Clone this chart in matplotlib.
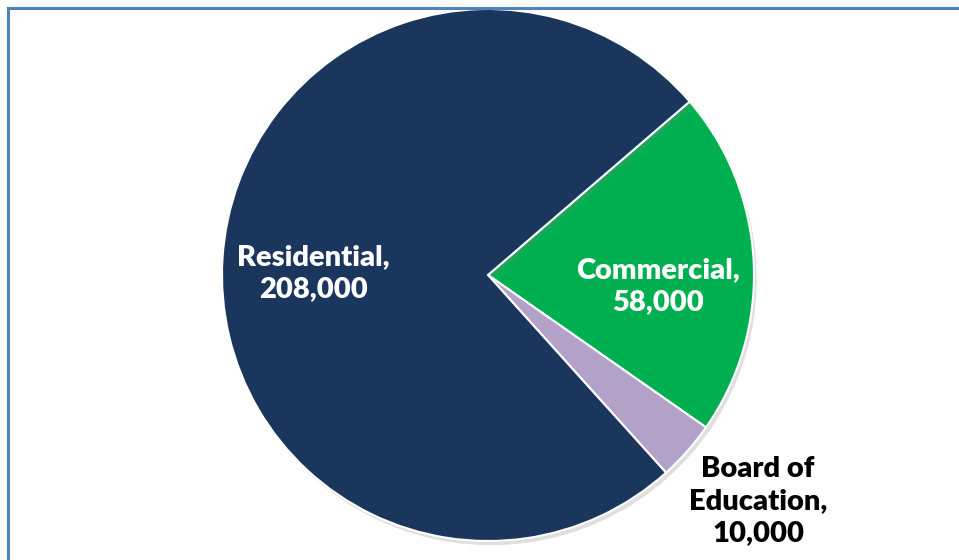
import matplotlib.pyplot as plt
import matplotlib.patheffects as pe
from matplotlib.lines import Line2D

categories = ['Commercial', 'Board of\nEducation', 'Residential']
values = [58000, 10000, 208000]
colors = ['#00B050', '#B3A2C7', '#1B365D']

fig = plt.figure(figsize=(9.59, 5.6), dpi=100)
ax = fig.add_axes([0, 0, 1, 1])

wedges, _ = ax.pie(values, colors=colors, startangle=40.7, counterclock=False,
                   center=(488, 285), radius=266, frame=True,
                   wedgeprops=dict(edgecolor='white', linewidth=1.5))
for w in wedges:
    w.set_path_effects([pe.SimplePatchShadow(offset=(2, -3), alpha=0.25, shadow_rgbFace='gray'),
                        pe.Normal()])
ax.set_xlim(0, 959)
ax.set_ylim(0, 560)
ax.axis('off')

font = ['Lato', 'DejaVu Sans']
label_pos = [(658, 274), (758, 59), (313, 287)]
label_col = ['white', 'black', 'white']
for cat, v, (x, y), c in zip(categories, values, label_pos, label_col):
    ax.text(x, y, f'{cat},\n{v:,}', ha='center', va='center', color=c,
            fontsize=21, fontweight='heavy', family=font, linespacing=1.3)

# frame lines along the top and left
fig.add_artist(Line2D([8 / 959, 1], [1 - 8 / 560, 1 - 8 / 560], color='#4F81BD', lw=2.2))
fig.add_artist(Line2D([8 / 959, 8 / 959], [0, 1 - 8 / 560], color='#4F81BD', lw=2.2))

fig.savefig('out.png', dpi=100)
